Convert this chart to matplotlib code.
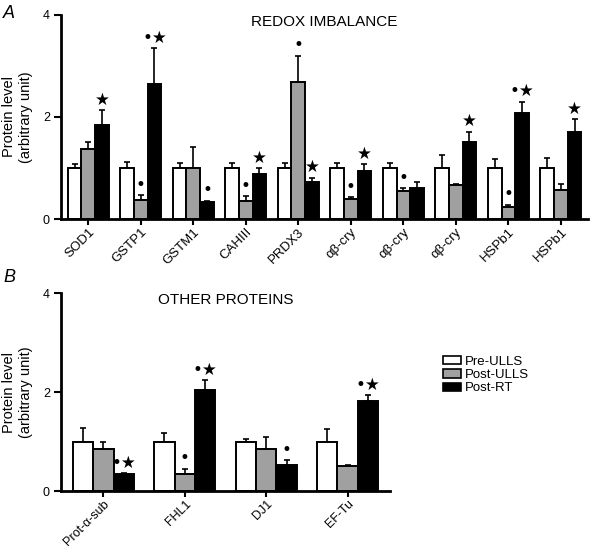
import numpy as np
import matplotlib
matplotlib.use('Agg')
import matplotlib.pyplot as plt
from matplotlib.patches import Patch

plt.rcParams['font.family'] = ['Liberation Sans', 'DejaVu Sans']

# ---- panel A data ----
labelsA = ['SOD1', 'GSTP1', 'GSTM1', 'CAHIII', 'PRDX3',
           u'\u03b1\u03b2-cry', u'\u03b1\u03b2-cry', u'\u03b1\u03b2-cry', 'HSPb1', 'HSPb1']
preA = [1.0, 1.0, 1.0, 1.0, 1.0, 1.0, 1.0, 1.0, 1.0, 1.0]
preA_err = [0.07, 0.12, 0.10, 0.09, 0.10, 0.09, 0.10, 0.25, 0.18, 0.20]
postA = [1.37, 0.37, 1.0, 0.36, 2.68, 0.40, 0.55, 0.67, 0.24, 0.57]
postA_err = [0.13, 0.10, 0.41, 0.09, 0.52, 0.03, 0.05, 0.02, 0.04, 0.11]
rtA = [1.84, 2.64, 0.34, 0.88, 0.73, 0.95, 0.60, 1.50, 2.07, 1.71]
rtA_err = [0.30, 0.71, 0.02, 0.12, 0.08, 0.12, 0.13, 0.21, 0.23, 0.25]
sigPostA = ['', u'\u2022', '', u'\u2022', u'\u2022', u'\u2022', u'\u2022', '', u'\u2022', '']
sigRtA = [u'\u2605', u'\u2022\u2605', u'\u2022', u'\u2605', u'\u2605', u'\u2605', '', u'\u2605', u'\u2022\u2605', u'\u2605']

# ---- panel B data ----
labelsB = [u'Prot-\u03b1-sub', 'FHL1', 'DJ1', 'EF-Tu']
preB = [1.0, 1.0, 1.0, 1.0]
preB_err = [0.27, 0.17, 0.05, 0.25]
postB = [0.86, 0.35, 0.85, 0.50]
postB_err = [0.14, 0.10, 0.24, 0.03]
rtB = [0.35, 2.04, 0.52, 1.82]
rtB_err = [0.01, 0.20, 0.10, 0.12]
sigPostB = ['', u'\u2022', '', '']
sigRtB = [u'\u2022\u2605', u'\u2022\u2605', u'\u2022', u'\u2022\u2605']

colors = ['white', '#a0a0a0', 'black']
names = ['Pre-ULLS', 'Post-ULLS', 'Post-RT']


def panel(ax, labels, vals, errs, sigs, w, title, lsize):
    x = np.arange(len(labels))
    for k in range(3):
        xs = x + (k - 1) * w
        ax.bar(xs, vals[k], w, color=colors[k], edgecolor='black', linewidth=1.4, zorder=2)
        ax.errorbar(xs, vals[k], yerr=[np.zeros(len(x)), errs[k]], fmt='none',
                    ecolor='black', elinewidth=1.2, capsize=2.5, capthick=1.2, zorder=1)
        if sigs[k] is not None:
            for i in range(len(x)):
                if sigs[k][i]:
                    ax.annotate(sigs[k][i], (xs[i], vals[k][i] + errs[k][i]),
                                xytext=(0, 1), textcoords='offset points',
                                ha='center', va='bottom', fontsize=12,
                                family=['DejaVu Sans'])
    ax.set_xlim(-0.52, len(labels) - 0.48)
    ax.set_ylim(0, 4)
    ax.set_yticks([0, 2, 4])
    ax.set_xticks(x)
    ax.set_xticklabels(labels, rotation=45, ha='right', rotation_mode='anchor', fontsize=lsize)
    ax.tick_params(axis='y', labelsize=9, width=1.5, length=5, pad=3)
    ax.tick_params(axis='x', width=1.5, length=4, pad=1)
    for s in ['top', 'right']:
        ax.spines[s].set_visible(False)
    for s in ['left', 'bottom']:
        ax.spines[s].set_linewidth(2)
    ax.set_ylabel('Protein level\n(arbitrary unit)', fontsize=10.5, linespacing=1.3)
    pos = ax.get_position()
    ax.yaxis.set_label_coords((33 / 595 - pos.x0) / pos.width, 0.5)
    ax.text(0.5, 1.0, title, transform=ax.transAxes, ha='center', va='top', fontsize=11)


fig = plt.figure(figsize=(5.95, 5.5), dpi=100)
ax1 = fig.add_axes([0.1025, 0.6018, 0.886, 0.371])
ax2 = fig.add_axes([0.1025, 0.107, 0.553, 0.36])

panel(ax1, labelsA, [preA, postA, rtA], [preA_err, postA_err, rtA_err],
      [None, sigPostA, sigRtA], 0.26, 'REDOX IMBALANCE', 9.5)
panel(ax2, labelsB, [preB, postB, rtB], [preB_err, postB_err, rtB_err],
      [None, sigPostB, sigRtB], 0.25, 'OTHER PROTEINS', 9)

fig.text(0.005, 0.99, 'A', fontsize=13, style='italic', va='top')
fig.text(0.005, 0.51, 'B', fontsize=13, style='italic', va='top')

handles = [Patch(facecolor=c, edgecolor='black', linewidth=1.2) for c in colors]
fig.legend(handles, names, loc='upper left', bbox_to_anchor=(0.7445, 0.353),
           frameon=False, fontsize=9.5, handlelength=1.35, handleheight=0.6,
           labelspacing=0.1, handletextpad=0.3, borderaxespad=0, borderpad=0)

fig.savefig('out.png', dpi=100)
